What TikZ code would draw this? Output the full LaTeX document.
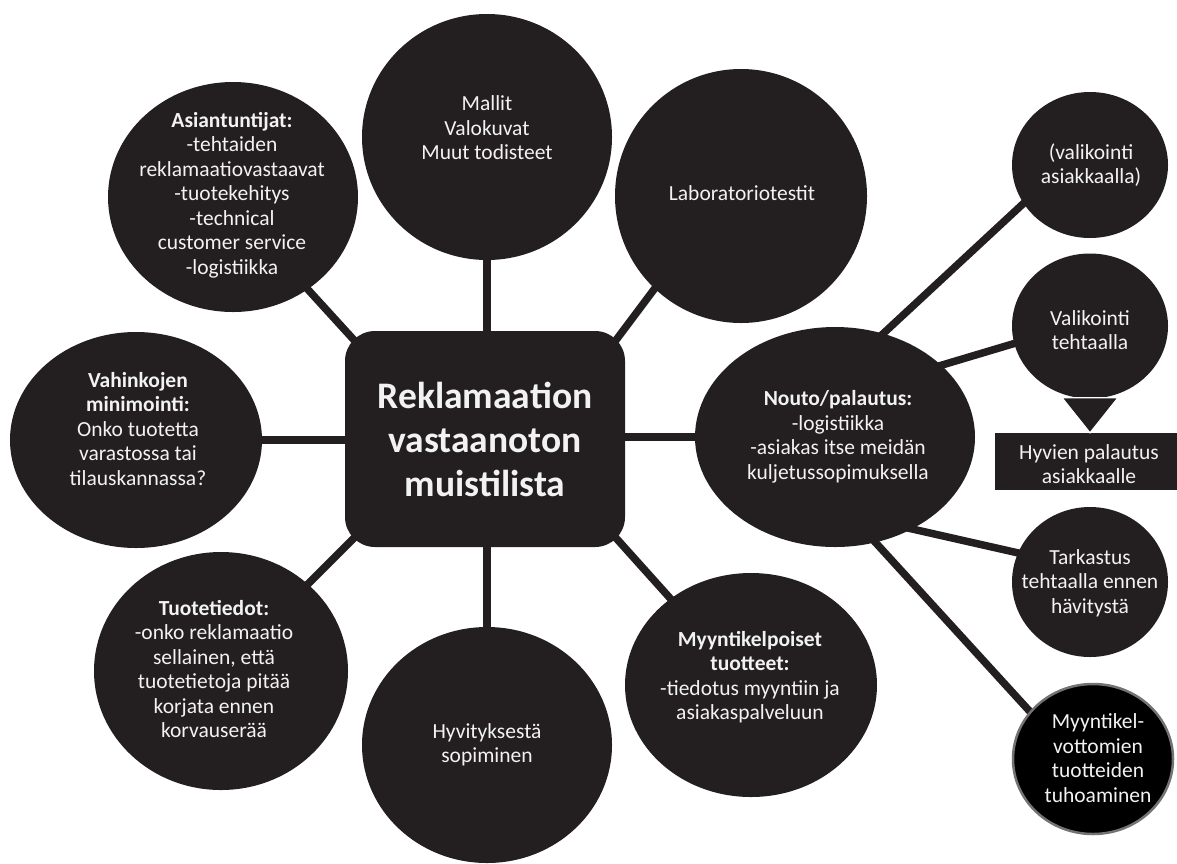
\documentclass[tikz,border=0pt]{standalone}
\usepackage{fontspec}
\setmainfont{Carlito}
\usetikzlibrary{shapes.geometric,calc}
\pgfdeclarelayer{back}
\pgfsetlayers{back,main}
\definecolor{ink}{HTML}{231F20}
\definecolor{paper}{HTML}{F2F2F2}

\begin{document}
\begin{tikzpicture}[x=1pt,y=-1pt,
  bubble/.style={ellipse, fill=ink, draw=none, inner sep=0pt},
  txt/.style={text=paper, align=center, inner sep=0pt,
    font=\fontsize{21.5}{24.5}\selectfont},
  link/.style={draw=ink, line width=7.5pt, shorten <=-10pt, shorten >=-10pt}
]
\useasboundingbox (0,0) rectangle (1177,863);

% central checklist box
\node[rectangle, rounded corners=30pt, fill=ink, inner sep=0pt,
      minimum width=280, minimum height=216, text=paper, align=center,
      font=\bfseries\fontsize{37.5}{44}\selectfont]
  (core) at (485,439) {Reklamaation\\vastaanoton\\muistilista};

% bubbles around the box
\node[bubble, minimum width=250, minimum height=246] (mallit) at (487,137) {};
\node[txt] (mallit-t) at (487,128) {Mallit\\Valokuvat\\Muut todisteet};

\node[bubble, minimum width=252, minimum height=254] (lab) at (741,196) {};
\node[txt] (lab-t) at (742,193) {Laboratoriotestit};

\node[bubble, minimum width=250, minimum height=230] (asi) at (233,197) {};
\node[txt] (asi-t) at (232,195) {\textbf{Asiantuntijat:}\\-tehtaiden\\reklamaatiovastaavat\\-tuotekehitys\\-technical\\customer service\\-logistiikka};

\node[bubble, minimum width=252, minimum height=216] (vah) at (136,440) {};
\node[txt] (vah-t) at (138,429) {\textbf{Vahinkojen}\\\textbf{minimointi:}\\Onko tuotetta\\varastossa tai\\tilauskannassa?};

\node[bubble, minimum width=254, minimum height=238] (tuo) at (221,671) {};
\node[txt] (tuo-t) at (214,669) {\textbf{Tuotetiedot:}\\-onko reklamaatio\\sellainen, että\\tuotetietoja pitää\\korjata ennen\\korvauserää};

\node[bubble, minimum width=250, minimum height=236] (hyv) at (487,745) {};
\node[txt] (hyv-t) at (487,745) {Hyvityksestä\\sopiminen};

\node[bubble, minimum width=252, minimum height=224] (myy) at (751,685) {};
\node[txt] (myy-t) at (750,677) {\textbf{Myyntikelpoiset}\\\textbf{tuotteet:}\\-tiedotus myyntiin ja\\asiakaspalveluun};

\node[bubble, minimum width=280, minimum height=220] (nouto) at (835,437) {};
\node[txt] (nouto-t) at (838,437) {\textbf{Nouto/palautus:}\\-logistiikka\\-asiakas itse meidän\\kuljetussopimuksella};

% follow-up bubbles on the right
\node[bubble, minimum width=156, minimum height=146] (vasiak) at (1090,165) {};
\node[txt] (vasiak-t) at (1091,165) {(valikointi\\asiakkaalla)};

\node[bubble, minimum width=156, minimum height=145] (vteht) at (1090,326) {};
\node[txt] (vteht-t) at (1090,330) {Valikointi\\tehtaalla};

\node[rectangle, fill=ink, inner sep=0pt, minimum width=182, minimum height=57]
  (ret) at (1086,461.5) {};
\node[txt] (ret-t) at (1089,464) {Hyvien palautus\\asiakkaalle};

\node[bubble, minimum width=156, minimum height=150] (tark) at (1090,582) {};
\node[txt] (tark-t) at (1090,583) {Tarkastus\\tehtaalla ennen\\hävitystä};

\node[bubble, fill=black, draw=black!55, line width=2.5pt,
      minimum width=160, minimum height=150] (tuho) at (1093,759) {};
\node[txt] (tuho-t) at (1098,758) {Myyntikel-\\vottomien\\tuotteiden\\tuhoaminen};

% block arrow from sorting at the factory down to the return box
\fill[ink] ($(vteht.south)+(-13,-10)$) rectangle ($(vteht.south)+(12,0)$);
\path[fill=ink, draw=white, line width=1.2pt]
  ($(vteht.south)+(-28,-1)$) -- ($(vteht.south)+(28,-1)$)
  -- ($(ret.north)+(4,0)$) -- cycle;

% connectors, kept behind the shapes
\begin{pgfonlayer}{back}
  \draw[link] (mallit) -- (mallit |- core);
  \draw[link] (hyv) -- (hyv |- core);
  \draw[link] (vah) -- (vah -| core);
  \draw[link] (nouto) -- (nouto -| core);
  \draw[link] ($(core.north west)+(9,9)$) -- (asi.-51);
  \draw[link] ($(core.north east)+(-9,9)$) -- (lab.227);
  \draw[link] ($(core.south west)+(9,-9)$) -- (tuo.45);
  \draw[link] ($(core.south east)+(-9,-9)$) -- (myy.133);
  \draw[link] (nouto.65) -- (vasiak.210);
  \draw[link] (nouto.34) -- (vteht.193);
  \draw[link] (nouto.-50) -- (tark.158);
  \draw[link] (nouto.-69) -- (tuho.143);
\end{pgfonlayer}
\end{tikzpicture}
\end{document}
